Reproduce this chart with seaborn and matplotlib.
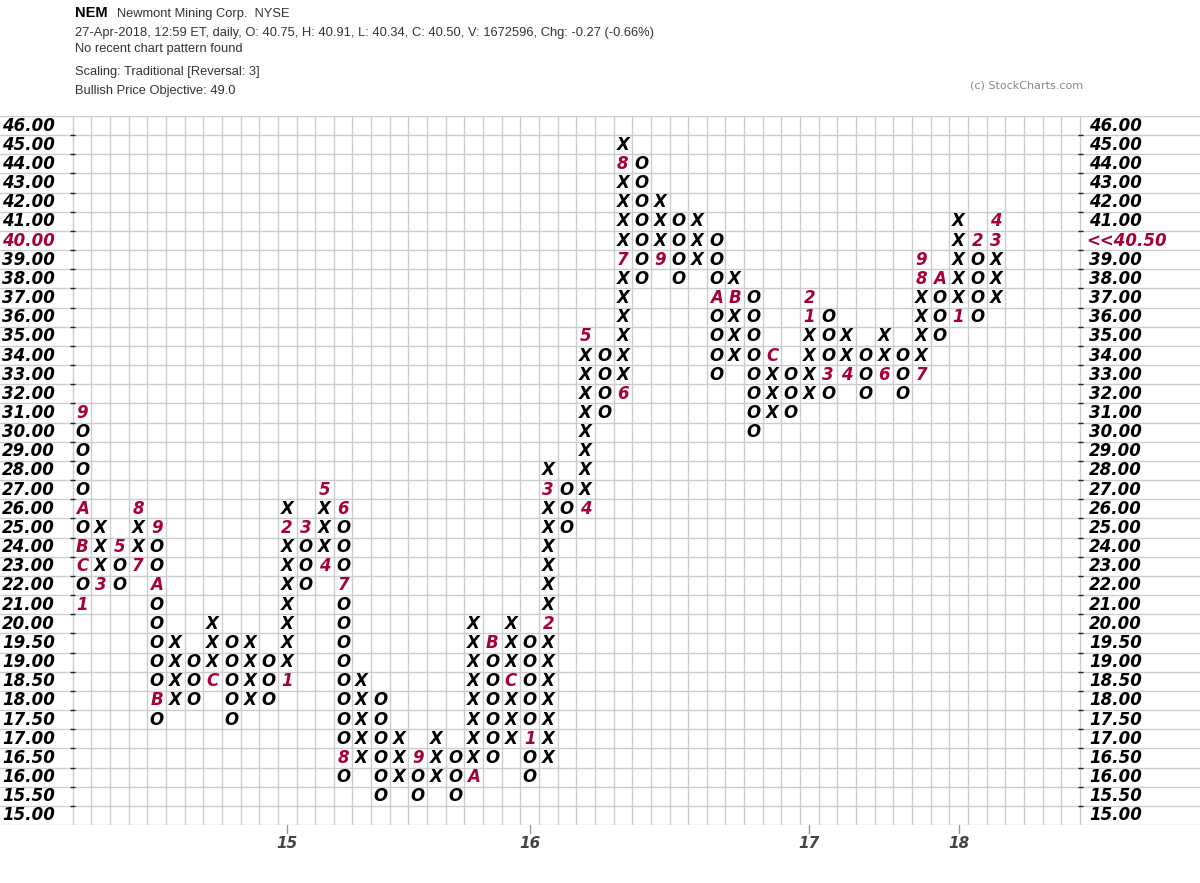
import numpy as np
import pandas as pd
import matplotlib
matplotlib.use('Agg')
import matplotlib.pyplot as plt
import seaborn as sns

# price scale of the point & figure grid ($0.50 boxes below 20, $1 boxes above)
price_levels = [15.0, 15.5, 16.0, 16.5, 17.0, 17.5, 18.0, 18.5, 19.0, 19.5,
                20, 21, 22, 23, 24, 25, 26, 27, 28, 29, 30, 31, 32, 33, 34, 35,
                36, 37, 38, 39, 40, 41, 42, 43, 44, 45, 46]

# one entry per column: X = rising, O = falling
col_type = "OXOXOXOXOXOXOXOXOXOXOXOXOXOXOXOXOXOXOXOXOXOXOXOXOX"
col_low = [21, 22, 22, 23, 17.5, 18, 18, 18.5, 17.5, 18, 18, 18.5, 22, 23, 16, 16.5,
           15.5, 16, 15.5, 16, 15.5, 16, 16.5, 17, 16, 16.5, 25, 26, 31, 32, 38, 39,
           38, 39, 33, 34, 30, 31, 31, 32, 32, 33, 32, 33, 32, 33, 35, 36, 36, 37]
col_high = [31, 25, 24, 26, 25, 19.5, 19, 20, 19.5, 19.5, 19, 26, 25, 27, 26, 18.5,
            18, 17, 16.5, 17, 16.5, 20, 19.5, 20, 19.5, 28, 27, 35, 34, 45, 44, 42,
            41, 41, 40, 38, 37, 34, 33, 37, 36, 35, 34, 35, 34, 39, 38, 41, 40, 41]

# month codes written in place of a box (1-9, A=Oct, B=Nov, C=Dec)
month_col = [0, 0, 0, 0, 0, 1, 2, 3, 3, 4, 4, 4, 7, 11, 11, 12, 13, 13, 14, 14, 14,
             18, 21, 22, 23, 24, 25, 25, 27, 27, 29, 29, 29, 31, 34, 35, 37, 39, 39,
             40, 41, 43, 45, 45, 45, 46, 47, 48, 49, 49]
month_price = [31, 26, 24, 23, 21, 22, 24, 23, 26, 25, 22, 18, 18.5, 18.5, 25, 25,
               23, 27, 26, 22, 16.5, 16.5, 16, 19.5, 18.5, 17, 20, 27, 26, 35, 32, 39,
               44, 39, 37, 37, 34, 36, 37, 33, 33, 33, 33, 38, 39, 38, 36, 40, 40, 41]
month_code = ['9', 'A', 'B', 'C', '1', '3', '5', '7', '8', '9', 'A', 'B', 'C', '1', '2',
              '3', '4', '5', '6', '7', '8', '9', 'A', 'B', 'C', '1', '2', '3', '4', '5',
              '6', '7', '8', '9', 'A', 'B', 'C', '1', '2', '3', '4', '6', '7', '8', '9',
              'A', '1', '2', '3', '4']

year_cols = [11, 24, 39, 47]
year_labels = ['15', '16', '17', '18']
last_price = 40.50

# build the box table
rows = []
for i, (lo, hi) in enumerate(zip(col_low, col_high)):
    for p in price_levels:
        if lo <= p <= hi:
            rows.append((i, p, col_type[i]))
boxes = pd.DataFrame(rows, columns=['col', 'price', 'mark'])
months = pd.DataFrame({'col': month_col, 'price': month_price, 'code': month_code})
boxes = boxes.merge(months, on=['col', 'price'], how='left')
boxes['row'] = boxes['price'].apply(price_levels.index)

sns.set_style('white')
red = '#a6003a'
grid_c = '#cccccc'

W, H = 1200, 883
fig = plt.figure(figsize=(12, 8.83), dpi=100)
top_px, bot_px = 116, 825
x0_px, cw = 72.7, 18.65
ncols = 54
ax = fig.add_axes([0, (H - bot_px) / H, 1, (bot_px - top_px) / H])
ax.set_xlim(-x0_px / cw, (W - x0_px) / cw)
ax.set_ylim(-0.5, len(price_levels) - 0.5)
ax.axis('off')

nrows = len(price_levels)
for r in range(nrows + 1):
    ax.axhline(r - 0.5, color=grid_c, lw=1, zorder=1)
ax.vlines(range(ncols + 1), -0.5, nrows - 0.5, color=grid_c, lw=1, zorder=1)
ax.hlines([r - 0.5 for r in range(1, nrows)], -0.17, 0.13, color='#222222', lw=1, zorder=2)
ax.hlines([r - 0.5 for r in range(1, nrows)], ncols - 0.12, ncols + 0.16, color='#222222', lw=1, zorder=2)

glyph = dict(family='DejaVu Sans', style='italic', weight='bold', fontsize=12,
             ha='center', va='center', zorder=3)
for _, b in boxes.iterrows():
    if isinstance(b['code'], str):
        ax.text(b['col'] + 0.5, b['row'], b['code'], color=red, **glyph)
    else:
        ax.text(b['col'] + 0.5, b['row'], b['mark'], color='black', **glyph)

# price labels on both sides
lab = dict(family='DejaVu Sans', style='italic', weight='bold', fontsize=12,
           va='center', ha='left', clip_on=False)
for r, p in enumerate(price_levels):
    txt = f'{p:.2f}'
    ax.text((2 - x0_px) / cw, r, txt, color=red if p == 40 else 'black', **lab)
    if p == 40:
        ax.text((1086 - x0_px) / cw, r, f'<<{last_price:.2f}', color=red, **lab)
    else:
        ax.text((1089 - x0_px) / cw, r, txt, color='black', **lab)

# year ticks along the bottom
for c, y in zip(year_cols, year_labels):
    ax.plot([c + 0.5, c + 0.5], [-0.5, -0.92], color='#999999', lw=1, clip_on=False)
    ax.text(c + 0.5, -1.45, y, family='DejaVu Sans', style='italic', weight='bold',
            fontsize=11, color='#444444', ha='center', va='center', clip_on=False)

# header
def ft(x, y, s, **kw):
    fig.text(x / W, 1 - y / H, s, va='center', ha='left', **kw)

hdr = dict(family='Liberation Sans', fontsize=9.3, color='#333333')
ft(75, 13, 'NEM', family='Liberation Sans', weight='bold', fontsize=10.5, color='black')
ft(117, 14, 'Newmont Mining Corp.  NYSE', **hdr)
ft(75, 33, '27-Apr-2018, 12:59 ET, daily, O: 40.75, H: 40.91, L: 40.34, C: 40.50, '
   'V: 1672596, Chg: -0.27 (-0.66%)', **hdr)
ft(75, 49, 'No recent chart pattern found', **hdr)
ft(75, 72, 'Scaling: Traditional [Reversal: 3]', **hdr)
ft(75, 91, 'Bullish Price Objective: 49.0', **hdr)
ft(970, 85, '(c) StockCharts.com', family='DejaVu Sans', fontsize=8, color='#888888')

fig.savefig('out.png', dpi=100)
